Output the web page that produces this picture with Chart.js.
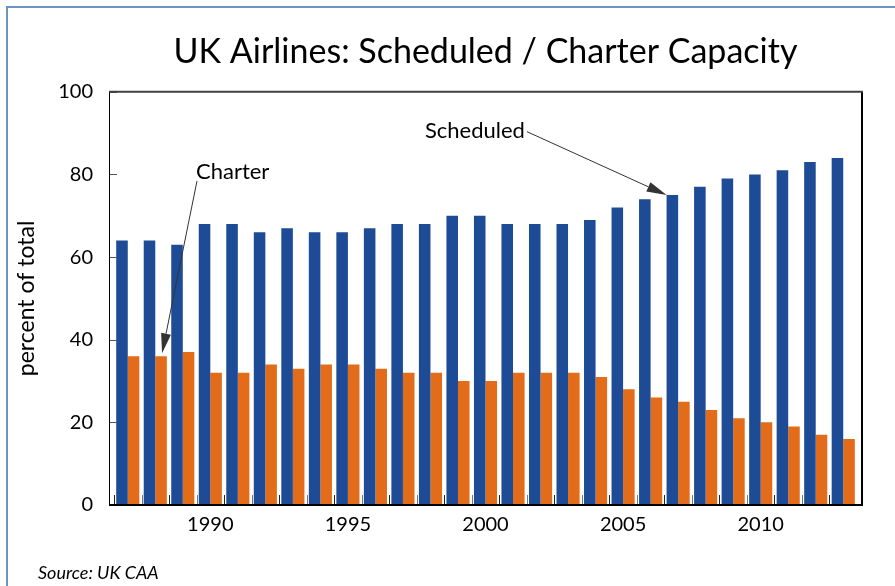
<!DOCTYPE html>
<html>
<head>
<meta charset="utf-8">
<script src="https://cdn.jsdelivr.net/npm/chart.js@4.4.1/dist/chart.umd.min.js"></script>
<style>
  body { margin: 0; background: #fff; }
</style>
</head>
<body>
<canvas id="chart" width="895" height="586"></canvas>
<script>
const years = [1987, 1988, 1989, 1990, 1991, 1992, 1993, 1994, 1995, 1996, 1997, 1998, 1999, 2000,
               2001, 2002, 2003, 2004, 2005, 2006, 2007, 2008, 2009, 2010, 2011, 2012, 2013];
const scheduled = [64, 64, 63, 68, 68, 66, 67, 66, 66, 67, 68, 68, 70, 70,
                   68, 68, 68, 69, 72, 74, 75, 77, 79, 80, 81, 83, 84];
const charter = [36, 36, 37, 32, 32, 34, 33, 34, 34, 33, 32, 32, 30, 30,
                 32, 32, 32, 31, 28, 26, 25, 23, 21, 20, 19, 17, 16];
const labeledYears = [1990, 1995, 2000, 2005, 2010];

const BLUE = '#1E4B96';
const ORANGE = '#E36C1A';

// arrow from a label to a bar
function drawArrow(ctx, x1, y1, x2, y2) {
    const ang = Math.atan2(y2 - y1, x2 - x1);
    const len = 20, half = 5;
    const bx = x2 - len * Math.cos(ang), by = y2 - len * Math.sin(ang);
    ctx.strokeStyle = '#333';
    ctx.lineWidth = 1;
    ctx.beginPath();
    ctx.moveTo(x1, y1);
    ctx.lineTo(bx, by);
    ctx.stroke();
    ctx.fillStyle = '#333';
    ctx.beginPath();
    ctx.moveTo(x2, y2);
    ctx.lineTo(bx + half * Math.sin(ang), by - half * Math.cos(ang));
    ctx.lineTo(bx - half * Math.sin(ang), by + half * Math.cos(ang));
    ctx.closePath();
    ctx.fill();
}

const framePlugin = {
    id: 'frame',
    beforeDraw(chart) {
        const ctx = chart.ctx;
        ctx.save();
        ctx.fillStyle = '#fff';
        ctx.fillRect(0, 0, chart.width, chart.height);
        // outer light blue border
        ctx.strokeStyle = '#6B93C4';
        ctx.lineWidth = 2;
        ctx.beginPath();
        ctx.moveTo(7, chart.height);
        ctx.lineTo(7, 7);
        ctx.lineTo(chart.width, 7);
        ctx.stroke();
        ctx.restore();
    },
    afterDraw(chart) {
        const ctx = chart.ctx;
        const a = chart.chartArea;
        const x = chart.scales.x, y = chart.scales.y;
        const left = a.left - 5, right = a.right + 5;
        ctx.save();
        // y tick marks, inward
        ctx.strokeStyle = '#555';
        ctx.lineWidth = 1;
        y.ticks.forEach(t => {
            const py = Math.round(y.getPixelForValue(t.value)) + 0.5;
            ctx.beginPath();
            ctx.moveTo(left, py);
            ctx.lineTo(left + 8, py);
            ctx.stroke();
        });
        // x tick marks at category boundaries, inward
        for (let i = 0; i < years.length; i++) {
            const px = Math.round(x.getPixelForValue(i - 0.5)) + 0.5;
            ctx.strokeStyle = i % 2 ? '#777' : '#222';
            ctx.beginPath();
            ctx.moveTo(px, a.bottom);
            ctx.lineTo(px, a.bottom - 10);
            ctx.stroke();
        }
        // plot frame
        ctx.strokeStyle = '#000';
        ctx.lineWidth = 1;
        ctx.beginPath();
        ctx.moveTo(left + 0.5, a.top);
        ctx.lineTo(left + 0.5, a.bottom);
        ctx.stroke();
        ctx.lineWidth = 2;
        ctx.beginPath();
        ctx.moveTo(right, a.top);
        ctx.lineTo(right, a.bottom);
        ctx.stroke();
        ctx.beginPath();
        ctx.moveTo(left, a.bottom);
        ctx.lineTo(right + 1, a.bottom);
        ctx.stroke();
        ctx.strokeStyle = '#404040';
        ctx.beginPath();
        ctx.moveTo(left, a.top);
        ctx.lineTo(right + 1, a.top);
        ctx.stroke();

        // annotations
        ctx.font = '22px Lato';
        ctx.fillStyle = '#000';
        ctx.textBaseline = 'middle';
        ctx.textAlign = 'left';
        const chBar = chart.getDatasetMeta(1).data[1];
        const cx = x.getPixelForValue(2.48), cy = y.getPixelForValue(80.6);
        ctx.fillText('Charter', cx, cy);
        drawArrow(ctx, cx + 1, cy + 9, chBar.x + 1, chBar.y - 3);

        const scBar = chart.getDatasetMeta(0).data[20];
        const sx = x.getPixelForValue(10.8), sy = y.getPixelForValue(90.6);
        ctx.fillStyle = '#000';
        ctx.fillText('Scheduled', sx, sy);
        const sw = ctx.measureText('Scheduled').width;
        drawArrow(ctx, sx + sw + 2, sy + 1, scBar.x - scBar.width / 2, scBar.y);

        // source note
        ctx.font = 'italic 18px Lato';
        ctx.fillStyle = '#000';
        ctx.fillText('Source: UK CAA', 38, 573);
        ctx.restore();
    }
};

new Chart(document.querySelector('#chart').getContext('2d'), {
    type: 'bar',
    data: {
        labels: years,
        datasets: [{
            label: 'Scheduled',
            data: scheduled,
            backgroundColor: BLUE,
            categoryPercentage: 0.84,
            barPercentage: 1.0
        }, {
            label: 'Charter',
            data: charter,
            backgroundColor: ORANGE,
            categoryPercentage: 0.84,
            barPercentage: 1.0
        }]
    },
    options: {
        responsive: false,
        animation: false,
        layout: { padding: { left: 0, right: 38, top: 0, bottom: 49 } },
        plugins: {
            legend: { display: false },
            tooltip: { enabled: false },
            title: {
                display: true,
                fullSize: false,
                text: 'UK Airlines: Scheduled / Charter Capacity',
                color: '#000',
                font: { family: 'Lato', size: 34, weight: 'normal' },
                padding: { top: 32, bottom: 19 }
            }
        },
        scales: {
            x: {
                offset: true,
                grid: { display: false, drawTicks: false },
                border: { display: false },
                ticks: {
                    autoSkip: false,
                    maxRotation: 0,
                    padding: 8,
                    color: '#000',
                    font: { family: 'Lato', size: 20 },
                    callback: function (val, i) {
                        return labeledYears.includes(years[i]) ? String(years[i]) : '';
                    }
                },
                afterFit(scale) { scale.height = 32; }
            },
            y: {
                min: 0,
                max: 100,
                grid: { display: false, drawTicks: false },
                border: { display: false },
                ticks: {
                    stepSize: 20,
                    padding: 21,
                    color: '#000',
                    font: { family: 'Lato', size: 20 }
                },
                title: {
                    display: true,
                    text: 'percent of total',
                    color: '#000',
                    font: { family: 'Lato', size: 23 },
                    padding: { top: 13, bottom: 0 }
                },
                afterFit(scale) { scale.width = 114; }
            }
        }
    },
    plugins: [framePlugin]
});
</script>
</body>
</html>
